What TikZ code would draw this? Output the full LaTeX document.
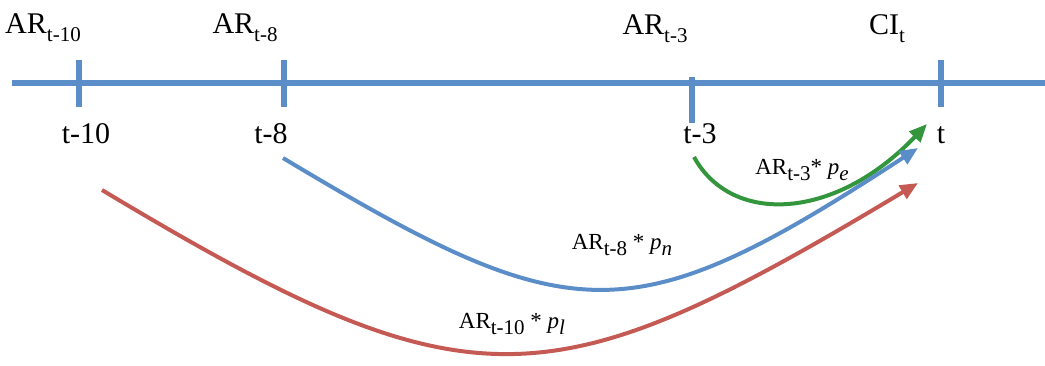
\documentclass[tikz,border=0pt]{standalone}
\usepackage{fontspec}
\setmainfont{Liberation Serif}
\usetikzlibrary{arrows.meta}
\definecolor{axisblau}{HTML}{5B8DC8}
\definecolor{pathrot}{HTML}{C55A55}
\definecolor{pathgruen}{HTML}{33963D}
\newcommand{\lowidx}[1]{\raisebox{-0.28em}{\fontsize{10.5}{11}\selectfont #1}}

\begin{document}
\begin{tikzpicture}[
    x=0.5pt, y=-0.5pt,
    axisline/.style={line width=3pt, axisblau},
    tickmark/.style={line width=3pt, axisblau},
    toplabel/.style={anchor=base, inner sep=0pt, font=\fontsize{15}{18}\selectfont},
    timelabel/.style={anchor=base, inner sep=0pt, font=\fontsize{15}{18}\selectfont},
    weight/.style={inner sep=0pt, font=\fontsize{11.5}{13}\selectfont},
    arr/.style={-{Triangle[length=9pt, width=7.5pt]}, line width=2pt}
  ]
  \useasboundingbox (0,0) rectangle (1045,365);
  \draw[axisline] (12,83) -- (1045,83);
  \foreach \x in {79,284,941}
    \draw[tickmark] (\x,60) -- (\x,107);
  \draw[tickmark] (692,77) -- (692,123);

  \node[toplabel] (ar10) at (43,33) {AR\lowidx{t-10}};
  \node[toplabel] (ar8)  at (245,33) {AR\lowidx{t-8}};
  \node[toplabel] (ar3)  at (655,34) {AR\lowidx{t-3}};
  \node[toplabel] (cit)  at (887,34) {CI\lowidx{t}};

  \node[timelabel] (t10) at (86,143) {t-10};
  \node[timelabel] (t8)  at (271,143) {t-8};
  \node[timelabel] (t3)  at (700,143) {t-3};
  \node[timelabel] (tt)  at (941,143) {t};

  \coordinate (s3)  at (694,157);
  \coordinate (s8)  at (283,158);
  \coordinate (s10) at (102,190);
  \coordinate (e3)  at (927,124);
  \coordinate (e8)  at (918,148);
  \coordinate (e10) at (918,183);

  \draw[arr, pathgruen] (s3) .. controls (732,226) and (836,220) .. (e3);
  \draw[arr, axisblau] (s8) .. controls (573,332) and (630,336) .. (e8);
  \draw[arr, pathrot] (s10) .. controls (472,412) and (548,405) .. (e10);

  \node[weight] (w3)  at (802,170) {AR\lowidx{t-3}* \textit{p}\lowidx{\itshape e}};
  \node[weight] (w8)  at (622,245) {AR\lowidx{t-8} * \textit{p}\lowidx{\itshape n}};
  \node[weight] (w10) at (512,324) {AR\lowidx{t-10} * \textit{p}\lowidx{\itshape l}};
\end{tikzpicture}
\end{document}
